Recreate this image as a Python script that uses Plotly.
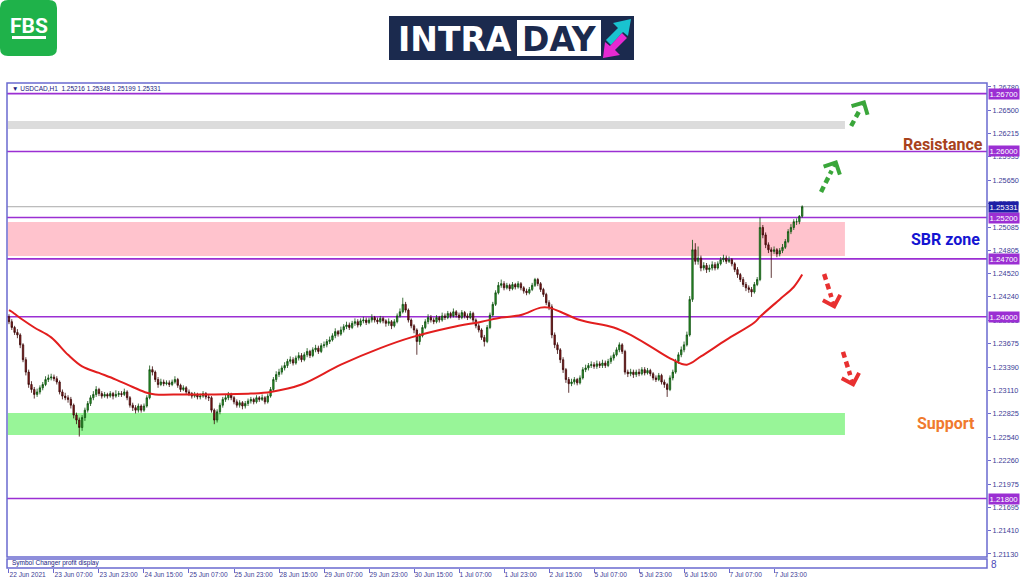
import plotly.graph_objects as go

# ---------------- data (USDCAD H1) ----------------
first_open = 1.24000
close = [
    1.2394, 1.2387, 1.2381, 1.2378, 1.2366, 1.2348, 1.2333, 1.2318, 1.2312, 1.2306,
    1.2309, 1.2314, 1.2318, 1.2324, 1.2326, 1.2327, 1.2325, 1.2321, 1.2309, 1.2304,
    1.2302, 1.2300, 1.2293, 1.2281, 1.2275, 1.2266, 1.2278, 1.2287, 1.2295, 1.2302,
    1.2306, 1.2312, 1.2307, 1.2304, 1.2306, 1.2304, 1.2307, 1.2304, 1.2306, 1.2307,
    1.2306, 1.2309, 1.2302, 1.2293, 1.2290, 1.2287, 1.2292, 1.2287, 1.2292, 1.2302,
    1.2336, 1.2333, 1.2324, 1.2318, 1.2321, 1.2319, 1.2320, 1.2318, 1.2321, 1.2324,
    1.2317, 1.2312, 1.2314, 1.2309, 1.2307, 1.2304, 1.2306, 1.2303, 1.2304, 1.2307,
    1.2303, 1.2302, 1.2287, 1.2275, 1.2285, 1.2293, 1.2300, 1.2302, 1.2306, 1.2302,
    1.2297, 1.2293, 1.2296, 1.2292, 1.2295, 1.2298, 1.2300, 1.2297, 1.2302, 1.2300,
    1.2302, 1.2297, 1.2304, 1.2312, 1.2324, 1.2330, 1.2333, 1.2338, 1.2341, 1.2346,
    1.2348, 1.2344, 1.2350, 1.2353, 1.2348, 1.2354, 1.2358, 1.2353, 1.2360, 1.2362,
    1.2358, 1.2365, 1.2366, 1.2370, 1.2372, 1.2377, 1.2382, 1.2379, 1.2384, 1.2388,
    1.2390, 1.2387, 1.2392, 1.2394, 1.2390, 1.2395, 1.2396, 1.2393, 1.2396, 1.2399,
    1.2396, 1.2394, 1.2398, 1.2395, 1.2392, 1.2394, 1.2389, 1.2394, 1.2401, 1.2406,
    1.2415, 1.2408, 1.2396, 1.2389, 1.2384, 1.2370, 1.2377, 1.2387, 1.2394, 1.2399,
    1.2396, 1.2394, 1.2399, 1.2396, 1.2401, 1.2399, 1.2404, 1.2401, 1.2406, 1.2402,
    1.2399, 1.2405, 1.2401, 1.2399, 1.2404, 1.2396, 1.2389, 1.2384, 1.2375, 1.2370,
    1.2387, 1.2402, 1.2415, 1.2429, 1.2438, 1.2440, 1.2435, 1.2438, 1.2434, 1.2439,
    1.2436, 1.2440, 1.2435, 1.2431, 1.2429, 1.2433, 1.2438, 1.2445, 1.2440, 1.2433,
    1.2427, 1.2417, 1.2412, 1.2378, 1.2366, 1.2360, 1.2348, 1.2336, 1.2324, 1.2319,
    1.2321, 1.2324, 1.2320, 1.2326, 1.2336, 1.2338, 1.2341, 1.2342, 1.2340, 1.2343,
    1.2341, 1.2344, 1.2341, 1.2346, 1.2350, 1.2354, 1.2360, 1.2366, 1.2358, 1.2333,
    1.2331, 1.2333, 1.2330, 1.2333, 1.2331, 1.2336, 1.2332, 1.2335, 1.2331, 1.2326,
    1.2324, 1.2329, 1.2321, 1.2318, 1.2312, 1.2326, 1.2333, 1.2346, 1.2354, 1.2360,
    1.2366, 1.2378, 1.2421, 1.2481, 1.2467, 1.2471, 1.2459, 1.2462, 1.2457, 1.2459,
    1.2463, 1.2459, 1.2464, 1.2469, 1.2471, 1.2467, 1.2469, 1.2464, 1.2457, 1.2451,
    1.2445, 1.2439, 1.2435, 1.2433, 1.2430, 1.2439, 1.2445, 1.2508, 1.2499, 1.2487,
    1.2481, 1.2479, 1.2481, 1.2476, 1.2480, 1.2484, 1.2491, 1.2503, 1.2508, 1.2515,
    1.2515, 1.25216, 1.25331]
high = [
    1.2403, 1.2397, 1.2389, 1.2385, 1.2380, 1.2368, 1.2351, 1.2336, 1.2322, 1.2315,
    1.2313, 1.2317, 1.2321, 1.2328, 1.2330, 1.2331, 1.2330, 1.2328, 1.2323, 1.2312,
    1.2308, 1.2305, 1.2303, 1.2295, 1.2284, 1.2278, 1.2281, 1.2290, 1.2298, 1.2305,
    1.2310, 1.2316, 1.2314, 1.2310, 1.2309, 1.2308, 1.2310, 1.2309, 1.2311, 1.2310,
    1.2310, 1.2313, 1.2311, 1.2304, 1.2296, 1.2293, 1.2295, 1.2294, 1.2295, 1.2305,
    1.2341, 1.2340, 1.2335, 1.2327, 1.2325, 1.2324, 1.2323, 1.2323, 1.2324, 1.2328,
    1.2326, 1.2319, 1.2317, 1.2316, 1.2312, 1.2309, 1.2309, 1.2308, 1.2307, 1.2310,
    1.2309, 1.2306, 1.2304, 1.2289, 1.2288, 1.2296, 1.2303, 1.2306, 1.2309, 1.2308,
    1.2304, 1.2300, 1.2299, 1.2298, 1.2298, 1.2301, 1.2303, 1.2302, 1.2305, 1.2304,
    1.2306, 1.2304, 1.2307, 1.2315, 1.2327, 1.2334, 1.2337, 1.2341, 1.2345, 1.2349,
    1.2352, 1.2351, 1.2353, 1.2357, 1.2356, 1.2357, 1.2362, 1.2360, 1.2363, 1.2366,
    1.2365, 1.2368, 1.2370, 1.2373, 1.2376, 1.2380, 1.2386, 1.2384, 1.2388, 1.2391,
    1.2394, 1.2393, 1.2395, 1.2398, 1.2397, 1.2398, 1.2400, 1.2399, 1.2399, 1.2403,
    1.2401, 1.2399, 1.2401, 1.2400, 1.2397, 1.2398, 1.2396, 1.2397, 1.2404, 1.2410,
    1.2423, 1.2418, 1.2410, 1.2398, 1.2391, 1.2386, 1.2380, 1.2390, 1.2397, 1.2403,
    1.2402, 1.2399, 1.2402, 1.2401, 1.2405, 1.2404, 1.2407, 1.2406, 1.2410, 1.2408,
    1.2405, 1.2408, 1.2407, 1.2404, 1.2407, 1.2406, 1.2398, 1.2392, 1.2386, 1.2378,
    1.2390, 1.2405, 1.2418, 1.2432, 1.2442, 1.2445, 1.2443, 1.2441, 1.2440, 1.2442,
    1.2441, 1.2443, 1.2442, 1.2437, 1.2434, 1.2436, 1.2441, 1.2447, 1.2447, 1.2442,
    1.2435, 1.2429, 1.2420, 1.2415, 1.2381, 1.2369, 1.2362, 1.2351, 1.2338, 1.2327,
    1.2325, 1.2327, 1.2326, 1.2329, 1.2339, 1.2342, 1.2344, 1.2346, 1.2345, 1.2347,
    1.2346, 1.2348, 1.2347, 1.2349, 1.2353, 1.2357, 1.2363, 1.2369, 1.2368, 1.2360,
    1.2336, 1.2337, 1.2336, 1.2336, 1.2337, 1.2339, 1.2339, 1.2338, 1.2337, 1.2333,
    1.2329, 1.2332, 1.2331, 1.2324, 1.2320, 1.2329, 1.2336, 1.2349, 1.2357, 1.2364,
    1.2370, 1.2382, 1.2425, 1.2493, 1.2489, 1.2485, 1.2474, 1.2466, 1.2465, 1.2463,
    1.2467, 1.2466, 1.2467, 1.2472, 1.2475, 1.2474, 1.2473, 1.2471, 1.2466, 1.2460,
    1.2453, 1.2448, 1.2442, 1.2438, 1.2436, 1.2442, 1.2448, 1.2520, 1.2511, 1.2502,
    1.2490, 1.2484, 1.2485, 1.2483, 1.2483, 1.2488, 1.2494, 1.2506, 1.2512, 1.2518,
    1.2519, 1.2523, 1.25348]
low = [
    1.2391, 1.2384, 1.2378, 1.2374, 1.2362, 1.2345, 1.2329, 1.2314, 1.2308, 1.2301,
    1.2303, 1.2306, 1.2311, 1.2316, 1.2321, 1.2323, 1.2322, 1.2318, 1.2306, 1.2300,
    1.2299, 1.2296, 1.2289, 1.2277, 1.2270, 1.2255, 1.2262, 1.2274, 1.2284, 1.2292,
    1.2299, 1.2303, 1.2304, 1.2301, 1.2302, 1.2301, 1.2302, 1.2300, 1.2302, 1.2303,
    1.2303, 1.2304, 1.2299, 1.2290, 1.2286, 1.2283, 1.2284, 1.2284, 1.2285, 1.2290,
    1.2300, 1.2329, 1.2321, 1.2314, 1.2316, 1.2316, 1.2317, 1.2315, 1.2316, 1.2319,
    1.2314, 1.2309, 1.2310, 1.2306, 1.2304, 1.2301, 1.2302, 1.2300, 1.2300, 1.2302,
    1.2300, 1.2298, 1.2284, 1.2270, 1.2272, 1.2282, 1.2290, 1.2297, 1.2299, 1.2299,
    1.2294, 1.2290, 1.2290, 1.2288, 1.2289, 1.2292, 1.2295, 1.2294, 1.2295, 1.2297,
    1.2298, 1.2294, 1.2295, 1.2302, 1.2310, 1.2321, 1.2327, 1.2330, 1.2335, 1.2338,
    1.2343, 1.2341, 1.2342, 1.2347, 1.2345, 1.2346, 1.2351, 1.2350, 1.2351, 1.2357,
    1.2355, 1.2356, 1.2362, 1.2363, 1.2367, 1.2370, 1.2374, 1.2376, 1.2377, 1.2381,
    1.2385, 1.2384, 1.2385, 1.2389, 1.2387, 1.2388, 1.2392, 1.2390, 1.2391, 1.2393,
    1.2393, 1.2391, 1.2392, 1.2392, 1.2388, 1.2389, 1.2385, 1.2387, 1.2392, 1.2399,
    1.2404, 1.2405, 1.2393, 1.2386, 1.2380, 1.2354, 1.2366, 1.2375, 1.2385, 1.2391,
    1.2393, 1.2391, 1.2392, 1.2393, 1.2394, 1.2396, 1.2397, 1.2398, 1.2399, 1.2399,
    1.2396, 1.2397, 1.2398, 1.2396, 1.2397, 1.2393, 1.2386, 1.2381, 1.2372, 1.2364,
    1.2368, 1.2385, 1.2400, 1.2413, 1.2427, 1.2435, 1.2432, 1.2433, 1.2431, 1.2432,
    1.2433, 1.2434, 1.2432, 1.2428, 1.2426, 1.2427, 1.2431, 1.2436, 1.2437, 1.2430,
    1.2424, 1.2414, 1.2408, 1.2374, 1.2362, 1.2355, 1.2344, 1.2332, 1.2320, 1.2308,
    1.2316, 1.2318, 1.2317, 1.2318, 1.2324, 1.2333, 1.2335, 1.2338, 1.2337, 1.2337,
    1.2338, 1.2338, 1.2338, 1.2339, 1.2343, 1.2347, 1.2352, 1.2357, 1.2355, 1.2330,
    1.2327, 1.2328, 1.2326, 1.2327, 1.2328, 1.2329, 1.2329, 1.2330, 1.2328, 1.2323,
    1.2321, 1.2322, 1.2318, 1.2314, 1.2303, 1.2310, 1.2323, 1.2331, 1.2343, 1.2351,
    1.2357, 1.2364, 1.2376, 1.2418, 1.2463, 1.2463, 1.2455, 1.2456, 1.2453, 1.2454,
    1.2456, 1.2456, 1.2457, 1.2462, 1.2466, 1.2464, 1.2465, 1.2461, 1.2454, 1.2447,
    1.2442, 1.2436, 1.2431, 1.2429, 1.2424, 1.2428, 1.2437, 1.2443, 1.2495, 1.2483,
    1.2477, 1.2447, 1.2476, 1.2472, 1.2473, 1.2477, 1.2482, 1.2489, 1.2500, 1.2505,
    1.2511, 1.2512, 1.25199]
bars = list(range(len(close)))
open_ = [first_open] + close[:-1]

# moving average (red line), read at selected bars
ma_bar = [0, 1, 5, 9, 15, 21, 26, 32, 38, 44, 49, 52, 62, 72, 86, 93, 104, 118, 132,
          143, 157, 168, 175, 182, 189, 192, 196, 203, 215, 221, 229, 236, 241, 246,
          255, 265, 267, 274, 279, 282]
ma_val = [1.2408, 1.2406, 1.2396, 1.2387, 1.2375, 1.2354, 1.2340, 1.2332, 1.2324,
          1.2315, 1.2308, 1.2306, 1.2306, 1.2306, 1.2307, 1.2309, 1.2318, 1.2342,
          1.2362, 1.2375, 1.2387, 1.2394, 1.2399, 1.2402, 1.2411, 1.2411, 1.2406,
          1.2396, 1.2387, 1.2378, 1.2362, 1.2348, 1.2342, 1.2352, 1.2372, 1.2393,
          1.2400, 1.2421, 1.2436, 1.2451]

x_tick_bars = [0, 16, 32, 48, 64, 80, 96, 112, 128, 144, 160, 176, 192, 208, 224, 240, 256, 272]
x_tick_labels = ["22 Jun 2021", "23 Jun 07:00", "23 Jun 23:00", "24 Jun 15:00", "25 Jun 07:00",
                 "25 Jun 23:00", "28 Jun 15:00", "29 Jun 07:00", "29 Jun 23:00", "30 Jun 15:00",
                 "1 Jul 07:00", "1 Jul 23:00", "2 Jul 15:00", "5 Jul 07:00", "5 Jul 23:00",
                 "6 Jul 15:00", "7 Jul 07:00", "7 Jul 23:00"]
y_tick_vals = [1.26780, 1.26500, 1.26215, 1.25935, 1.25650, 1.25370, 1.25085, 1.24805,
               1.24520, 1.24240, 1.23955, 1.23675, 1.23390, 1.23110, 1.22825, 1.22540,
               1.22260, 1.21975, 1.21695, 1.21410, 1.21130]

level_prices = [1.26700, 1.26000, 1.25200, 1.24700, 1.24000, 1.21800]
current_price = 1.25331
zone_low = [1.26272, 1.24735, 1.22569]
zone_high = [1.26369, 1.25147, 1.22836]
zone_colors = ["#DCDCDC", "#FFC3CD", "#98F598"]
zone_start_bar, zone_end_bar = -0.4, 297.2

zone_texts = ["Resistance", "SBR zone", "Support"]
zone_text_prices = [1.26085, 1.24940, 1.22710]
zone_text_colors = ["#A8421C", "#1414D2", "#F07A2E"]

arrow_start_bar = [288.7, 299.4, 289.8, 296.5]
arrow_start_price = [1.25510, 1.26308, 1.24517, 1.23574]
arrow_tip_bar = [294.4, 304.4, 293.7, 300.4]
arrow_tip_price = [1.25897, 1.26623, 1.24094, 1.23150]
arrow_colors = ["#3AA63A", "#3AA63A", "#E83030", "#E83030"]

header = "▼ USDCAD,H1  1.25216 1.25348 1.25199 1.25331"

# ---------------- layout helpers (pixel -> paper) ----------------
L, R, T, B = 7, 37, 83, 19
W, H = 1024, 587
PW, PH = W - L - R, H - T - B


def PX(x):
    return (x - L) / PW


def PY(y):
    return (H - B - y) / PH


frame_col = "#6A6AD0"
lvl_col = "#9B2FD3"

fig = go.Figure()
fig.add_trace(go.Candlestick(
    x=bars, open=open_, high=high, low=low, close=close,
    increasing=dict(line=dict(color="#0E4F0E", width=0.8), fillcolor="#2F9A2F"),
    decreasing=dict(line=dict(color="#3A0808", width=0.8), fillcolor="#8E1C1C"),
    whiskerwidth=0, hoverinfo="skip", xaxis="x", yaxis="y"))
fig.add_trace(go.Scatter(x=ma_bar, y=ma_val, mode="lines",
                         line=dict(color="#E21E1E", width=2, shape="spline", smoothing=1.0),
                         hoverinfo="skip", xaxis="x", yaxis="y"))
fig.add_trace(go.Scatter(x=[0], y=[0.5], mode="markers", marker=dict(opacity=0),
                         hoverinfo="skip", xaxis="x", yaxis="y2"))

shapes = []
for lo, hi, col in zip(zone_low, zone_high, zone_colors):
    shapes.append(dict(type="rect", xref="x", yref="y", x0=zone_start_bar, x1=zone_end_bar,
                       y0=lo, y1=hi, fillcolor=col, line=dict(width=0), layer="below"))
shapes.append(dict(type="line", xref="paper", yref="y", x0=0, x1=1, y0=current_price,
                   y1=current_price, line=dict(color="#A9A9A9", width=1), layer="below"))
for p in level_prices:
    shapes.append(dict(type="line", xref="paper", yref="y", x0=0, x1=1, y0=p, y1=p,
                       line=dict(color=lvl_col, width=1.6), layer="below"))
for sb, sp, tb, tp, col in zip(arrow_start_bar, arrow_start_price, arrow_tip_bar,
                               arrow_tip_price, arrow_colors):
    mb = sb + (tb - sb) * 0.66
    mp = sp + (tp - sp) * 0.66
    shapes.append(dict(type="line", xref="x", yref="y", x0=sb, y0=sp, x1=mb, y1=mp,
                       line=dict(color=col, width=4.5, dash="6px,4px")))
shapes.append(dict(type="rect", xref="paper", yref="paper", x0=0, x1=1, y0=PY(557), y1=1,
                   line=dict(color=frame_col, width=1.5)))
shapes.append(dict(type="rect", xref="paper", yref="paper", x0=0, x1=1, y0=0, y1=PY(559),
                   line=dict(color=frame_col, width=1.5)))


def rrect(x0, y0, x1, y1, r):
    pts = [("M", x0 + r, y0), ("L", x1 - r, y0), ("Q", x1, y0, x1, y0 + r), ("L", x1, y1 - r),
           ("Q", x1, y1, x1 - r, y1), ("L", x0 + r, y1), ("Q", x0, y1, x0, y1 - r),
           ("L", x0, y0 + r), ("Q", x0, y0, x0 + r, y0)]
    s = ""
    for p in pts:
        if p[0] == "Q":
            s += f"Q{PX(p[1]):.5f},{PY(p[2]):.5f} {PX(p[3]):.5f},{PY(p[4]):.5f} "
        else:
            s += f"{p[0]}{PX(p[1]):.5f},{PY(p[2]):.5f} "
    return s + "Z"


def poly(points):
    s = "M" + " L".join(f"{PX(x):.5f},{PY(y):.5f}" for x, y in points)
    return s + " Z"


# FBS logo
shapes.append(dict(type="path", xref="paper", yref="paper", path=rrect(0, 0, 57, 56, 8),
                   fillcolor="#1FB24A", line=dict(width=0)))
shapes.append(dict(type="rect", xref="paper", yref="paper", x0=PX(12), x1=PX(46),
                   y0=PY(39), y1=PY(36), fillcolor="white", line=dict(width=0)))
# INTRADAY logo
shapes.append(dict(type="rect", xref="paper", yref="paper", x0=PX(389), x1=PX(634),
                   y0=PY(60), y1=PY(16), fillcolor="#1B2A4E", line=dict(width=0)))
shapes.append(dict(type="rect", xref="paper", yref="paper", x0=PX(517), x1=PX(601),
                   y0=PY(56), y1=PY(20), fillcolor="white", line=dict(width=0)))
shapes.append(dict(type="path", xref="paper", yref="paper",
                   path=poly([(606, 40), (618, 28), (613, 23), (631, 19), (628, 36), (623, 32), (611, 45)]),
                   fillcolor="#19C3D0", line=dict(width=0)))
shapes.append(dict(type="path", xref="paper", yref="paper",
                   path=poly([(627, 38), (615, 50), (620, 55), (603, 58), (605, 42), (610, 46), (622, 33)]),
                   fillcolor="#E62AD2", line=dict(width=0)))

annotations = []
for sb, sp, tb, tp, col in zip(arrow_start_bar, arrow_start_price, arrow_tip_bar,
                               arrow_tip_price, arrow_colors):
    mb = sb + (tb - sb) * 0.74
    mp = sp + (tp - sp) * 0.74
    annotations.append(dict(x=tb, y=tp, ax=mb, ay=mp, xref="x", yref="y", axref="x", ayref="y",
                            text="", showarrow=True, arrowhead=4, arrowsize=1.0, arrowwidth=3.5,
                            arrowcolor=col, standoff=0))
for p in level_prices:
    annotations.append(dict(x=1.001, y=p, xref="paper", yref="y", xanchor="left", yanchor="middle",
                            text=f"{p:.5f}", showarrow=False, bgcolor=lvl_col, borderpad=0.5,
                            font=dict(family="Liberation Sans", size=7.8, color="white")))
annotations.append(dict(x=1.001, y=current_price, xref="paper", yref="y", xanchor="left",
                        yanchor="middle", text=f"{current_price:.5f}", showarrow=False,
                        bgcolor="#1E1EA6", borderpad=0.5,
                        font=dict(family="Liberation Sans", size=7.8, color="white")))
for txt, p, col, xr in zip(zone_texts, zone_text_prices, zone_text_colors, [985, 982, 977]):
    annotations.append(dict(x=PX(xr), y=p, xref="paper", yref="y", xanchor="right",
                            yanchor="middle", text=f"<b>{txt}</b>", showarrow=False,
                            font=dict(family="Roboto", size=16, color=col)))
annotations.append(dict(x=PX(10), y=PY(89), xref="paper", yref="paper", xanchor="left",
                        yanchor="middle", text=header, showarrow=False,
                        font=dict(family="Liberation Sans", size=6.5, color="#1A1A80")))
annotations.append(dict(x=PX(10), y=PY(563), xref="paper", yref="paper", xanchor="left",
                        yanchor="middle", text="Symbol Changer profit display", showarrow=False,
                        font=dict(family="Liberation Sans", size=6.5, color="#1A1A80")))
annotations.append(dict(x=PX(989), y=PY(564), xref="paper", yref="paper", xanchor="left",
                        yanchor="middle", text="8", showarrow=False,
                        font=dict(family="Liberation Sans", size=10, color="#4A4AB8")))
annotations.append(dict(x=PX(29), y=PY(26), xref="paper", yref="paper", xanchor="center",
                        yanchor="middle", text="<b>FBS</b>", showarrow=False,
                        font=dict(family="Roboto", size=21, color="white")))
annotations.append(dict(x=PX(455), y=PY(39), xref="paper", yref="paper", xanchor="center",
                        yanchor="middle", text="<b>INTRA</b>", showarrow=False,
                        font=dict(family="DejaVu Sans", size=33, color="white")))
annotations.append(dict(x=PX(559), y=PY(39), xref="paper", yref="paper", xanchor="center",
                        yanchor="middle", text="<b>DAY</b>", showarrow=False,
                        font=dict(family="DejaVu Sans", size=33, color="#1B2A4E")))

fig.update_layout(
    width=W, height=H, margin=dict(l=L, r=R, t=T, b=B, autoexpand=False),
    paper_bgcolor="white", plot_bgcolor="white", showlegend=False,
    shapes=shapes, annotations=annotations,
    xaxis=dict(range=[-0.7, 347.7], anchor="y2", tickmode="array", tickvals=x_tick_bars,
               ticktext=x_tick_labels, ticks="outside", ticklen=4, tickcolor=frame_col,
               tickangle=0, automargin=False,
               showgrid=False, zeroline=False, showline=False,
               ticklabelposition="outside right",
               tickfont=dict(family="Liberation Sans", size=6.6, color="#3C3C96"),
               rangeslider=dict(visible=False)),
    yaxis=dict(domain=[PY(557), 1], range=[1.21093, 1.26828], side="right", tickmode="array",
               tickvals=y_tick_vals, ticktext=[f"{v:.5f}" for v in y_tick_vals],
               ticks="outside", ticklen=3, tickcolor=frame_col, showgrid=False,
               zeroline=False, showline=False, automargin=False,
               tickfont=dict(family="Liberation Sans", size=7.3, color="#3C3C96")),
    yaxis2=dict(domain=[0, PY(559)], range=[0, 1], showticklabels=False, showgrid=False,
                zeroline=False, ticks="", automargin=False),
)

fig.write_html("out.html", config={"displayModeBar": False},
               post_script="document.body.style.margin='0px';")
